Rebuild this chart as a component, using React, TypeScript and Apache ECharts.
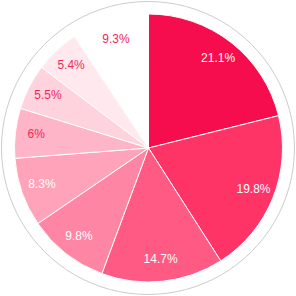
import React, { useEffect, useRef } from "react";
import * as echarts from "echarts";

const values = [21.1, 19.8, 14.7, 9.8, 8.3, 6, 5.5, 5.4, 9.3];
const labels = ["21.1%", "19.8%", "14.7%", "9.8%", "8.3%", "6%", "5.5%", "5.4%", "9.3%"];
const colors = ["#f50d4d", "#fe3366", "#fe5a83", "#fe86a4", "#fea3b9", "#feb5c7", "#fed3dd", "#ffe8ee", "#ffffff"];
const labelColors = ["#ffffff", "#ffffff", "#ffffff", "#ffffff", "#ffffff", "#f0285a", "#f0285a", "#f0285a", "#f0285a"];

export default function App() {
  const ref = useRef<HTMLDivElement>(null);
  useEffect(() => {
    document.body.style.margin = "0";
    const chart = echarts.init(ref.current!, null, { renderer: "svg" });
    const mainData = values.map((v, i) => ({
      value: v,
      name: labels[i],
      itemStyle: { color: colors[i] },
    }));
    const labelData = values.map((v, i) => ({
      value: v,
      name: labels[i],
      label: { color: labelColors[i] },
    }));
    chart.setOption({
      animation: false,
      graphic: [
        {
          type: "circle",
          shape: { cx: 148, cy: 148, r: 146.5 },
          style: { fill: "none", stroke: "#cccccc", lineWidth: 1 },
          silent: true,
        },
      ],
      series: [
        {
          type: "pie",
          center: [148.5, 148],
          radius: [0, 134],
          startAngle: 90,
          clockwise: true,
          label: { show: false },
          labelLine: { show: false },
          itemStyle: { borderColor: "#ffffff", borderWidth: 1 },
          emphasis: { disabled: true },
          data: mainData,
        },
        {
          type: "pie",
          center: [148.5, 147],
          radius: [86, 134],
          startAngle: 90,
          clockwise: true,
          silent: true,
          itemStyle: { color: "rgba(0,0,0,0)" },
          label: {
            show: true,
            position: "inside",
            rotate: 0,
            fontSize: 12,
            fontFamily: "Liberation Sans, Arial, sans-serif",
            formatter: "{b}",
          },
          labelLayout: () => ({ rotate: 0 }),
          labelLine: { show: false },
          emphasis: { disabled: true },
          data: labelData,
        },
      ],
    });
    return () => chart.dispose();
  }, []);
  return <div ref={ref} style={{ width: 296, height: 296 }} />;
}
